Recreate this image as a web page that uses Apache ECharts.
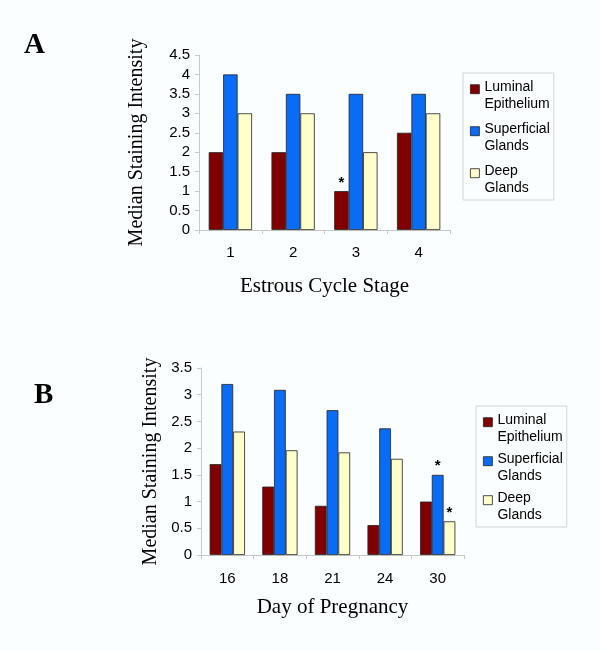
<!DOCTYPE html>
<html>
<head>
<meta charset="utf-8">
<script src="https://cdn.jsdelivr.net/npm/echarts@6/dist/echarts.min.js"></script>
<style>
  html, body { margin: 0; padding: 0; background: #fbfefe; }
  #chart { width: 600px; height: 651px; }
</style>
</head>
<body>
<div id="chart"></div>
<script>
// panel A: estrous cycle
var stagesA = ['1', '2', '3', '4'];
var luminalA = [2, 2, 1, 2.5];
var superficialA = [4, 3.5, 3.5, 3.5];
var deepA = [3, 3, 2, 3];
var starsLuminalA = [2];

// panel B: pregnancy
var daysB = ['16', '18', '21', '24', '30'];
var luminalB = [1.7, 1.28, 0.92, 0.56, 1.0];
var superficialB = [3.2, 3.09, 2.71, 2.37, 1.5];
var deepB = [2.31, 1.96, 1.92, 1.8, 0.63];
var starsSuperficialB = [4];
var starsDeepB = [4];

var names = ['Luminal\nEpithelium', 'Superficial\nGlands', 'Deep\nGlands'];
var colors = ['#800000', '#0a6cf5', '#ffffcc'];

function withStars(values, stars) {
  return values.map(function (v, i) {
    if (stars.indexOf(i) < 0) return v;
    return {
      value: v,
      label: { show: true, position: 'top', formatter: '*', distance: 1,
               fontSize: 15, fontWeight: 'bold', color: '#000', fontFamily: 'Arial' }
    };
  });
}

var chart = echarts.init(document.getElementById('chart'));

var serif = '"Liberation Serif", "Times New Roman", serif';
var sans = '"Liberation Sans", Arial, sans-serif';

function yAxis(idx, max, gap) {
  return {
    gridIndex: idx, type: 'value', min: 0, max: max, interval: 0.5,
    name: 'Median Staining Intensity', nameLocation: 'middle', nameGap: gap,
    nameTextStyle: { fontFamily: serif, fontSize: 20, color: '#000' },
    axisLine: { show: true, lineStyle: { color: '#c8c8c8' } },
    axisTick: { show: true, length: 4, lineStyle: { color: '#c8c8c8' } },
    axisLabel: { fontFamily: sans, fontSize: 15, color: '#000', margin: 9 },
    splitLine: { show: false }
  };
}

function xAxis(idx, cats, title, gap, margin) {
  return {
    gridIndex: idx, type: 'category', data: cats,
    name: title, nameLocation: 'middle', nameGap: gap,
    nameTextStyle: { fontFamily: serif, fontSize: 21, color: '#000' },
    axisLine: { show: true, lineStyle: { color: '#c8c8c8' } },
    axisTick: { show: true, length: 4, lineStyle: { color: '#c8c8c8' } },
    axisLabel: { fontFamily: sans, fontSize: 15, color: '#000', margin: margin }
  };
}

function bars(idx, vals, k) {
  return {
    type: 'bar', name: names[k], xAxisIndex: idx, yAxisIndex: idx,
    data: vals, barGap: 0, barCategoryGap: idx === 0 ? '31%' : '33%',
    itemStyle: { color: colors[k], borderColor: '#222', borderWidth: 0.8 },
    emphasis: { disabled: true }
  };
}

// square on the first text line: the empty tail of the path pushes it up
var legendIcon = 'path://M0,0h10v10h-10zM0,24h0.01';

function legend(left, top, gap) {
  return {
    data: names, orient: 'vertical', left: left, top: top,
    icon: legendIcon, itemWidth: 9, itemHeight: 21.6, itemGap: gap,
    padding: [6, 4, 4, 7],
    borderColor: '#d4d4d4', borderWidth: 1,
    itemStyle: { borderColor: '#222', borderWidth: 0.8 },
    textStyle: { fontFamily: sans, fontSize: 14, color: '#000', lineHeight: 16.5 },
    selectedMode: false
  };
}

chart.setOption({
  backgroundColor: '#fbfefe',
  animation: false,
  title: [
    { text: 'A', left: 19, top: 26, textStyle: { fontFamily: serif, fontSize: 29, fontWeight: 'bold', color: '#000' } },
    { text: 'B', left: 29, top: 376, textStyle: { fontFamily: serif, fontSize: 29, fontWeight: 'bold', color: '#000' } }
  ],
  grid: [
    { left: 199, right: 150, top: 55, bottom: 421 },
    { left: 201, right: 136, top: 368, bottom: 96 }
  ],
  legend: [legend(463, 73, 9), legend(476, 406, 6)],
  xAxis: [
    xAxis(0, stagesA, 'Estrous Cycle Stage', 46, 15),
    xAxis(1, daysB, 'Day of Pregnancy', 42, 16)
  ],
  yAxis: [yAxis(0, 4.5, 52), yAxis(1, 3.5, 40)],
  series: [
    bars(0, withStars(luminalA, starsLuminalA), 0),
    bars(0, superficialA, 1),
    bars(0, deepA, 2),
    bars(1, luminalB, 0),
    bars(1, withStars(superficialB, starsSuperficialB), 1),
    bars(1, withStars(deepB, starsDeepB), 2)
  ]
});
</script>
</body>
</html>
